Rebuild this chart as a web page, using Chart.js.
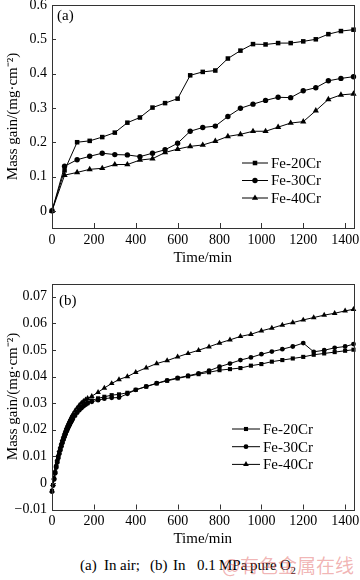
<!DOCTYPE html>
<html>
<head>
<meta charset="utf-8">
<script src="https://cdn.jsdelivr.net/npm/chart.js@4.4.0/dist/chart.umd.min.js"></script>
<style>
body{margin:0;background:#fff;width:360px;height:580px;position:relative;overflow:hidden;font-family:'Liberation Serif',serif;}
canvas{position:absolute;left:0;}
#ca{top:0;}
#cb{top:276px;}
.cap{position:absolute;top:555px;font-size:15px;line-height:20px;color:#000;white-space:pre;}
#wm{position:absolute;left:222px;top:553px;font-size:19px;line-height:24px;color:rgba(225,90,90,0.45);font-family:'Noto Sans CJK SC',sans-serif;white-space:pre;}
</style>
</head>
<body>
<canvas id="ca" width="360" height="268"></canvas>
<canvas id="cb" width="360" height="272"></canvas>
<span class="cap" style="left:80px">(a)</span>
<span class="cap" style="left:104px">In</span>
<span class="cap" style="left:120px">air;</span>
<span class="cap" style="left:150px">(b)</span>
<span class="cap" style="left:173px">In</span>
<span class="cap" style="left:197px">0.1</span>
<span class="cap" style="left:219px">MPa</span>
<span class="cap" style="left:250px">pure</span>
<span class="cap" style="left:280px">O<sub style="font-size:10px">2</sub></span>
<div id="wm">@有色金属在线</div>
<script>
// (a) in air, every 60 min
var TIME_A = [0, 60, 120, 180, 240, 300, 360, 420, 480, 540, 600, 660, 720, 780, 840, 900, 960, 1020, 1080, 1140, 1200, 1260, 1320, 1380, 1440];
var FE20_A = [0, 0.118, 0.200, 0.204, 0.215, 0.228, 0.257, 0.272, 0.301, 0.314, 0.327, 0.395, 0.405, 0.409, 0.444, 0.467, 0.486, 0.485, 0.489, 0.489, 0.494, 0.500, 0.515, 0.524, 0.528];
var FE30_A = [0, 0.130, 0.149, 0.159, 0.168, 0.164, 0.163, 0.158, 0.168, 0.178, 0.197, 0.232, 0.243, 0.247, 0.275, 0.299, 0.311, 0.322, 0.331, 0.330, 0.350, 0.359, 0.379, 0.386, 0.391];
var FE40_A = [0, 0.104, 0.112, 0.121, 0.124, 0.135, 0.135, 0.148, 0.152, 0.170, 0.180, 0.188, 0.192, 0.203, 0.217, 0.223, 0.232, 0.232, 0.244, 0.256, 0.260, 0.292, 0.325, 0.338, 0.341];

// (b) in 0.1 MPa O2
var TIME_B = [0, 5, 10, 15, 20, 25, 30, 35, 40, 45, 50, 55, 60, 65, 70, 75, 80, 85, 90, 95, 100,
  110, 120, 130, 140, 150, 160, 170, 190, 220, 250, 285, 320, 360, 400,
  450, 500, 550, 600, 650, 700, 750, 800, 850, 900, 950, 1000, 1050, 1100, 1150, 1200, 1250, 1300, 1350, 1400, 1440];
var FE20_B = [-0.0030, -0.0008, 0.0016, 0.0039, 0.0061, 0.0080, 0.0097, 0.0113, 0.0127, 0.0141, 0.0154, 0.0166, 0.0177, 0.0187, 0.0197, 0.0206, 0.0214, 0.0222, 0.0230, 0.0237, 0.0244,
  0.0256, 0.0267, 0.0277, 0.0285, 0.0292, 0.0298, 0.0303, 0.0310, 0.0318, 0.0324, 0.0330, 0.0333, 0.0339, 0.0350,
  0.0362, 0.0374, 0.0384, 0.0393, 0.0401, 0.0409, 0.0416, 0.0424, 0.0428, 0.0432, 0.0441, 0.0447, 0.0456, 0.0462, 0.0468, 0.0474, 0.0482, 0.0487, 0.0492, 0.0497, 0.0501];
var FE30_B = [-0.0033, -0.0010, 0.0013, 0.0036, 0.0058, 0.0077, 0.0094, 0.0110, 0.0124, 0.0138, 0.0151, 0.0163, 0.0174, 0.0184, 0.0194, 0.0203, 0.0211, 0.0219, 0.0227, 0.0234, 0.0241,
  0.0253, 0.0264, 0.0273, 0.0281, 0.0288, 0.0294, 0.0299, 0.0305, 0.0311, 0.0317, 0.0320, 0.0321, 0.0335, 0.0350,
  0.0363, 0.0375, 0.0386, 0.0395, 0.0403, 0.0412, 0.0422, 0.0437, 0.0449, 0.0462, 0.0472, 0.0484, 0.0494, 0.0503, 0.0513, 0.0526, 0.0493, 0.0499, 0.0508, 0.0513, 0.0522];
var FE40_B = [-0.0030, -0.0005, 0.0020, 0.0045, 0.0068, 0.0088, 0.0106, 0.0122, 0.0137, 0.0151, 0.0164, 0.0176, 0.0188, 0.0199, 0.0209, 0.0218, 0.0227, 0.0235, 0.0243, 0.0251, 0.0258,
  0.0271, 0.0282, 0.0292, 0.0300, 0.0307, 0.0313, 0.0318, 0.0326, 0.0341, 0.0357, 0.0374, 0.0389, 0.0400, 0.0416,
  0.0433, 0.0449, 0.0460, 0.0474, 0.0487, 0.0499, 0.0512, 0.0526, 0.0538, 0.0551, 0.0559, 0.0572, 0.0582, 0.0594, 0.0603, 0.0613, 0.0622, 0.0631, 0.0638, 0.0647, 0.0653];

var LABELS = ['Fe-20Cr', 'Fe-30Cr', 'Fe-40Cr'];
var X_TICKS = [0, 200, 400, 600, 800, 1000, 1200, 1400];
var Y_TICKS_A = [0, 0.1, 0.2, 0.3, 0.4, 0.5, 0.6];
var Y_TICKS_B = [-0.01, 0, 0.01, 0.02, 0.03, 0.04, 0.05, 0.06, 0.07];

Chart.defaults.font.family = "'Liberation Serif', 'Times New Roman', serif";
Chart.defaults.font.weight = 'normal';
Chart.defaults.color = '#000';

function drawMarker(ctx, style, x, y, r) {
  ctx.beginPath();
  if (style === 'rect') {
    var s = r * Math.SQRT1_2;
    ctx.rect(x - s, y - s, 2 * s, 2 * s);
  } else if (style === 'triangle') {
    ctx.moveTo(x, y - r);
    ctx.lineTo(x + r * 0.866, y + r * 0.5);
    ctx.lineTo(x - r * 0.866, y + r * 0.5);
    ctx.closePath();
  } else {
    ctx.arc(x, y, r, 0, Math.PI * 2);
  }
  ctx.fill();
}

// box, inward ticks, panel letter and legend
var framePlugin = {
  id: 'frame',
  afterDraw: function(chart, args, opts) {
    var ctx = chart.ctx, a = chart.chartArea;
    var xs = chart.scales.x, ys = chart.scales.y;
    ctx.save();
    ctx.strokeStyle = '#333';
    ctx.lineWidth = 1;
    ctx.strokeRect(Math.round(a.left) + 0.5, Math.round(a.top) + 0.5, Math.round(a.right - a.left), Math.round(a.bottom - a.top));
    ctx.beginPath();
    xs.ticks.forEach(function(t) {
      var px = Math.round(xs.getPixelForValue(t.value)) + 0.5;
      ctx.moveTo(px, a.bottom);
      ctx.lineTo(px, a.bottom - 5);
    });
    ys.ticks.forEach(function(t) {
      var py = Math.round(ys.getPixelForValue(t.value)) + 0.5;
      ctx.moveTo(a.left, py);
      ctx.lineTo(a.left + 4, py);
    });
    ctx.stroke();

    ctx.fillStyle = '#000';
    ctx.textBaseline = 'middle';
    ctx.font = "15px 'Liberation Serif'";
    ctx.fillText(opts.letter, opts.letterX, opts.letterY);

    ctx.strokeStyle = '#000';
    chart.data.datasets.forEach(function(ds, i) {
      var y = opts.legendY + i * opts.legendGap;
      ctx.beginPath();
      ctx.moveTo(opts.legendX, y);
      ctx.lineTo(opts.legendX + opts.legendLen, y);
      ctx.stroke();
      drawMarker(ctx, ds.pointStyle, opts.legendX + opts.legendLen / 2, y, ds.pointRadius);
      ctx.fillText(ds.label, opts.legendX + opts.legendLen + 3, y + 1);
    });
    ctx.restore();
  }
};

function makeSet(label, xs, ys, style, r) {
  return {
    label: label,
    data: xs.map(function(t, i) { return {x: t, y: ys[i]}; }),
    borderColor: '#000',
    backgroundColor: '#000',
    borderWidth: 1,
    pointStyle: style,
    pointRadius: r,
    pointBorderWidth: 0,
    pointBackgroundColor: '#000',
    tension: 0,
    clip: false
  };
}

function makeChart(id, sets, yMin, yMax, yTicks, fmt, pad, xHeight, xTickPad, xTitlePad, frame) {
  return new Chart(document.getElementById(id), {
    type: 'line',
    data: {datasets: sets},
    plugins: [framePlugin],
    options: {
      responsive: false,
      animation: false,
      devicePixelRatio: 1,
      layout: {padding: pad},
      plugins: {legend: {display: false}, tooltip: {enabled: false}, frame: frame},
      scales: {
        x: {
          type: 'linear', min: 0, max: 1440,
          afterBuildTicks: function(s) { s.ticks = X_TICKS.map(function(v) { return {value: v}; }); },
          afterFit: function(s) { s.height = xHeight; s.paddingLeft = 0; s.paddingRight = 0; },
          grid: {display: false, drawTicks: false},
          border: {display: false},
          ticks: {padding: xTickPad, font: {size: 14, weight: 'normal'}, maxRotation: 0, autoSkip: false,
            callback: function(v) { return String(v); }},
          title: {display: true, text: 'Time/min', font: {size: 15, weight: 'normal'}, padding: {top: 0, bottom: xTitlePad}}
        },
        y: {
          type: 'linear', min: yMin, max: yMax,
          afterBuildTicks: function(s) { s.ticks = yTicks.map(function(v) { return {value: v}; }); },
          afterFit: function(s) { s.width = 52; s.paddingTop = 0; s.paddingBottom = 0; },
          grid: {display: false, drawTicks: false},
          border: {display: false},
          ticks: {padding: 5, font: {size: 14, weight: 'normal'}, autoSkip: false, callback: fmt},
          title: {display: true, text: 'Mass gain/(mg\u00b7cm\u207b\u00b2)', font: {size: 15, weight: 'normal'}, padding: {top: 4, bottom: 0}}
        }
      }
    }
  });
}

makeChart('ca', [
  makeSet(LABELS[0], TIME_A, FE20_A, 'rect', 3.2),
  makeSet(LABELS[1], TIME_A, FE30_A, 'circle', 2.7),
  makeSet(LABELS[2], TIME_A, FE40_A, 'triangle', 3.6)
], -0.05, 0.6, Y_TICKS_A,
function(v) { return v === 0 ? '0' : v.toFixed(1); },
{left: 0, right: 6.5, top: 5, bottom: 0}, 40, 4, 1,
{letter: '(a)', letterX: 57, letterY: 16, legendX: 242, legendY: 163, legendGap: 17.5, legendLen: 26});

makeChart('cb', [
  makeSet(LABELS[0], TIME_B, FE20_B, 'rect', 2.9),
  makeSet(LABELS[1], TIME_B, FE30_B, 'circle', 2.4),
  makeSet(LABELS[2], TIME_B, FE40_B, 'triangle', 3.3)
], -0.01, 0.075, Y_TICKS_B,
function(v) { return Math.abs(v) < 1e-9 ? '0' : (v < 0 ? '\u2212' : '') + Math.abs(v).toFixed(2); },
{left: 0, right: 6.5, top: 7.5, bottom: 0}, 38.5, 3, 0,
{letter: '(b)', letterX: 59, letterY: 25, legendX: 232, legendY: 153, legendGap: 17.7, legendLen: 28});
</script>
</body>
</html>
